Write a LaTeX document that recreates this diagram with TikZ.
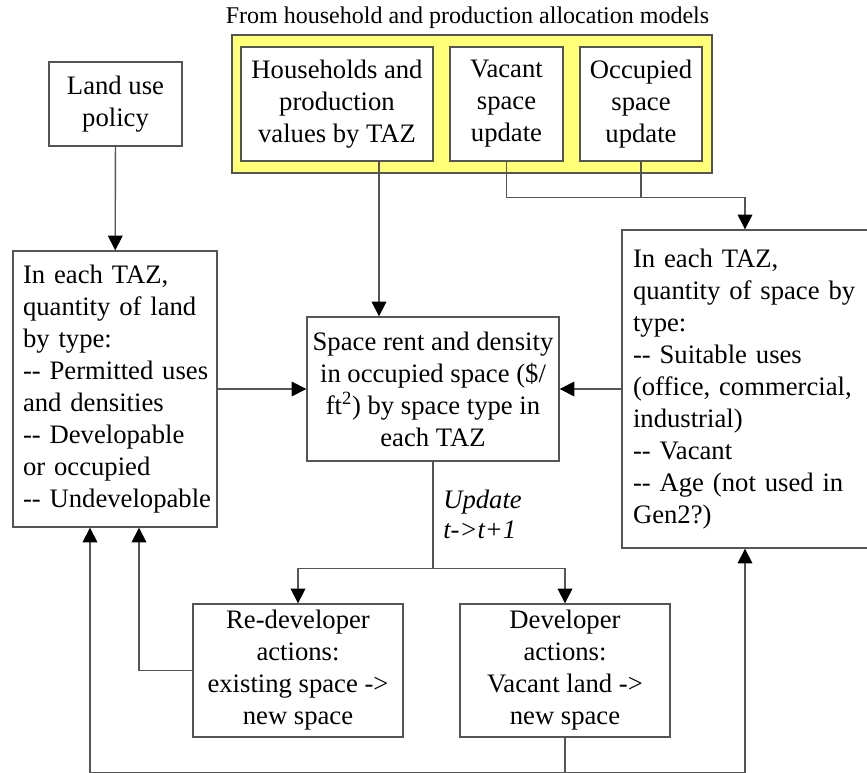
\documentclass[tikz,border=0pt]{standalone}
\usepackage{fontspec}
\setmainfont{Liberation Serif}
\usetikzlibrary{arrows.meta,calc}
\definecolor{lc}{RGB}{85,85,85}
\definecolor{grpfill}{RGB}{255,255,120}
% two plain hyphens, kept apart so no en dash is formed
\newcommand\dd{-\kern0pt-}
\tikzset{
  box/.style={draw=lc, line width=1pt, fill=white, inner sep=0pt,
    align=center, font=\fontsize{20}{24}\selectfont},
  listbox/.style={box, align=left,
    execute at begin node={\hyphenpenalty=10000\exhyphenpenalty=10000}},
  link/.style={draw=lc, line width=1pt},
  arr/.style={link, -{Triangle[length=11pt,width=11pt,color=black]}},
}
\begin{document}
\begin{tikzpicture}[x=0.75pt,y=-0.75pt]
\useasboundingbox (0,0) rectangle (867,773);

% inputs from the allocation models
\node[anchor=base, inner sep=0pt, font=\fontsize{18}{21}\selectfont] (src) at (467.5,24)
  {From household and production allocation models};
\node[draw=lc, line width=1pt, fill=grpfill, inner sep=0pt,
  minimum width=360pt, minimum height=103.5pt] (grp) at (472,104) {};
\node[box, minimum width=144pt, minimum height=85.5pt] (hh) at (337,104)
  {Households and\\production\\values by TAZ};
\node[box, minimum width=84.75pt, minimum height=85.5pt] (vac) at (506.5,104)
  {Vacant\\space\\update};
\node[box, minimum width=91.5pt, minimum height=85.5pt] (occ) at (641,104)
  {Occupied\\space\\update};

% policy and land
\node[box, minimum width=99.75pt, minimum height=63pt] (policy) at (115.5,104)
  {Land use\\policy};
\node[listbox, inner xsep=7.5pt, text width=138pt, minimum width=153pt, minimum height=207pt] (land) at (115,389)
  {In each TAZ,\\quantity of land\\by type:\\\dd{}~Permitted~uses\\and densities\\\dd{}~Developable\\or occupied\\\dd{}~Undevelopable};

% rents and space
\node[box, minimum width=189pt, minimum height=108pt] (rent) at (433,389)
  {Space rent and density\\in occupied space (\$/\\ft\textsuperscript{2}) by space type in\\each TAZ};
\node[listbox, inner xsep=8.25pt, text width=168pt, minimum width=184.5pt, minimum height=238.5pt] (space) at (745,389)
  {In each TAZ,\\quantity~of~space~by\\type:\\\dd{}~Suitable~uses\\(office,~commercial,\\industrial)\\\dd{}~Vacant\\\dd{}~Age~(not~used~in\\Gen2?)};

% developers
\node[box, minimum width=157.5pt, minimum height=99.75pt] (redev) at (298,670.5)
  {Re-developer\\actions:\\existing space ->\\new space};
\node[box, minimum width=157.5pt, minimum height=99.75pt] (dev) at (565,670.5)
  {Developer\\actions:\\Vacant land ->\\new space};

\node[anchor=west, inner sep=0pt, align=left, font=\itshape\fontsize{20}{22.5}\selectfont] (upd)
  at ($(rent.south)+(10,53)$) {Update\\t->t+1};

% connectors
\draw[arr] (policy) -- (land);
\draw[arr] (land) -- (rent);
\draw[arr] (space) -- (rent);

\coordinate (hhout) at ($(hh.south)+(42,0)$);
\draw[arr] (hhout) -- (hhout |- rent.north);

\coordinate (join) at ($(vac.south)+(0,36)$);
\draw[arr] (vac.south) -- (join) -| (space.north);
\draw[link] (occ.south) -- (occ.south |- join);

\coordinate (split) at ($(rent.south)+(0,107)$);
\draw[link] (rent.south) -- (split);
\draw[arr] (split) -| (redev.north);
\draw[arr] (split) -| (dev.north);

\coordinate (redin) at ($(land.south)+(24,0)$);
\draw[arr] (redev.west) -| (redin);

\coordinate (bot) at ($(dev.south)+(0,35)$);
\coordinate (landin) at ($(land.south)+(-25,0)$);
\draw[arr] (dev.south) -- (bot) -| (space.south);
\draw[arr] (bot) -| (landin);
\end{tikzpicture}
\end{document}
